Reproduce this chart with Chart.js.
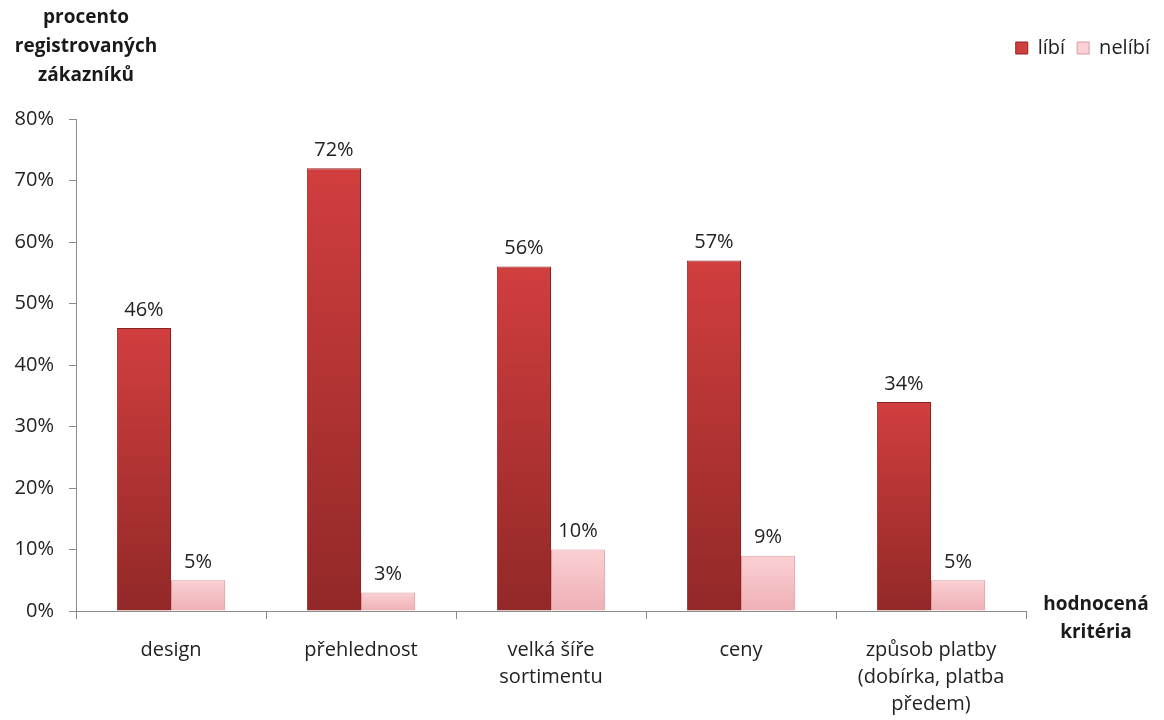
<!DOCTYPE html>
<html lang="cs">
<head>
<meta charset="utf-8">
<title>Hodnocení e-shopu zákazníky</title>
<script src="https://cdn.jsdelivr.net/npm/chart.js@4/dist/chart.umd.min.js"></script>
<style>
  html, body { margin: 0; padding: 0; background: #fff; }
  #wrap { position: relative; width: 1164px; height: 720px; }
</style>
</head>
<body>
<div id="wrap"><canvas id="graf"></canvas></div>
<script>
// hodnocená kritéria a podíly odpovědí (v %)
var kriteria = ['design', 'přehlednost', ['velká šíře', 'sortimentu'], 'ceny', ['způsob platby', '(dobírka, platba', 'předem)']];
var libi = [46, 72, 56, 57, 34];
var nelibi = [5, 3, 10, 9, 5];
var osaYNazev = ['procento', 'registrovaných', 'zákazníků'];
var osaXNazev = ['hodnocená', 'kritéria'];
var osaYTicks = [0, 10, 20, 30, 40, 50, 60, 70, 80];

var pismo = '"Open Sans", "Noto Sans", sans-serif';
var textBarva = '#222222';
var osaBarva = '#8c8c8c';

// svislý přechod pro každý sloupec zvlášť (světlejší nahoře)
function prechod(nahore, dole) {
  return function (c) {
    var chart = c.chart;
    var y = chart.scales && chart.scales.y;
    var v = c.raw;
    if (!y || !chart.chartArea || v === undefined) return dole;
    var y0 = y.getPixelForValue(v);
    var y1 = y.getPixelForValue(0);
    if (!isFinite(y0) || !isFinite(y1) || y0 === y1) return dole;
    var g = chart.ctx.createLinearGradient(0, y0, 0, y1);
    g.addColorStop(0, nahore);
    g.addColorStop(1, dole);
    return g;
  };
}

// hodnoty nad sloupci
var popisky = {
  id: 'popisky',
  afterDatasetsDraw: function (chart) {
    var ctx = chart.ctx;
    ctx.save();
    ctx.font = '20px ' + pismo;
    ctx.fillStyle = textBarva;
    ctx.textAlign = 'center';
    ctx.textBaseline = 'middle';
    chart.data.datasets.forEach(function (ds, i) {
      chart.getDatasetMeta(i).data.forEach(function (bar, j) {
        ctx.fillText(ds.data[j] + '%', bar.x, bar.y - 18);
      });
    });
    ctx.restore();
  }
};

// názvy os (tučně, vodorovně)
var nazvyOs = {
  id: 'nazvyOs',
  afterDraw: function (chart) {
    var ctx = chart.ctx;
    var a = chart.chartArea;
    ctx.save();
    ctx.font = 'bold 19px ' + pismo;
    ctx.fillStyle = '#1a1a1a';
    ctx.textAlign = 'center';
    ctx.textBaseline = 'middle';
    osaYNazev.forEach(function (t, i) {
      ctx.fillText(t, a.left + 10, 18 + i * 29);
    });
    osaXNazev.forEach(function (t, i) {
      ctx.fillText(t, a.right + 70, a.bottom - 6 + i * 28);
    });
    ctx.restore();
  }
};

new Chart(document.getElementById('graf'), {
  type: 'bar',
  data: {
    labels: kriteria,
    datasets: [{
      label: 'líbí',
      data: libi,
      backgroundColor: prechod('#d13e3e', '#922828'),
      borderColor: '#8a2424',
      borderWidth: 1
    }, {
      label: 'nelíbí',
      data: nelibi,
      backgroundColor: prechod('#fbd0d3', '#eeb0b6'),
      borderColor: '#d79da3',
      borderWidth: 1
    }]
  },
  options: {
    responsive: true,
    maintainAspectRatio: false,
    animation: false,
    layout: { padding: { top: 26, right: 2, bottom: 0, left: 0 } },
    datasets: {
      bar: { categoryPercentage: 0.57, barPercentage: 1 }
    },
    plugins: {
      legend: {
        position: 'top',
        align: 'end',
        labels: {
          boxWidth: 12,
          boxHeight: 12,
          padding: 12,
          color: textBarva,
          font: { family: pismo, size: 20 }
        }
      },
      // prázdný blok pod legendou jako odsazení grafu
      title: {
        display: true,
        text: ' ',
        weight: 500,
        font: { size: 10 },
        padding: { top: 0, bottom: 39 }
      },
      tooltip: { enabled: false }
    },
    scales: {
      x: {
        grid: { display: true, drawOnChartArea: false, tickLength: 8, color: osaBarva, offset: true },
        border: { color: osaBarva },
        ticks: {
          color: textBarva,
          padding: 18,
          maxRotation: 0,
          font: { family: pismo, size: 20, lineHeight: 1.35 }
        },
        afterFit: function (s) {
          s.height = 109;
          s.paddingRight = 138;
        }
      },
      y: {
        min: 0,
        max: 80,
        grid: { display: true, drawOnChartArea: false, tickLength: 7, color: osaBarva },
        border: { color: osaBarva },
        afterBuildTicks: function (s) {
          s.ticks = osaYTicks.map(function (v) { return { value: v }; });
        },
        ticks: {
          color: textBarva,
          padding: 15,
          font: { family: pismo, size: 20 },
          callback: function (v) { return v + '%'; }
        },
        afterFit: function (s) {
          s.width = 76;
        }
      }
    }
  },
  plugins: [popisky, nazvyOs]
});
</script>
</body>
</html>
